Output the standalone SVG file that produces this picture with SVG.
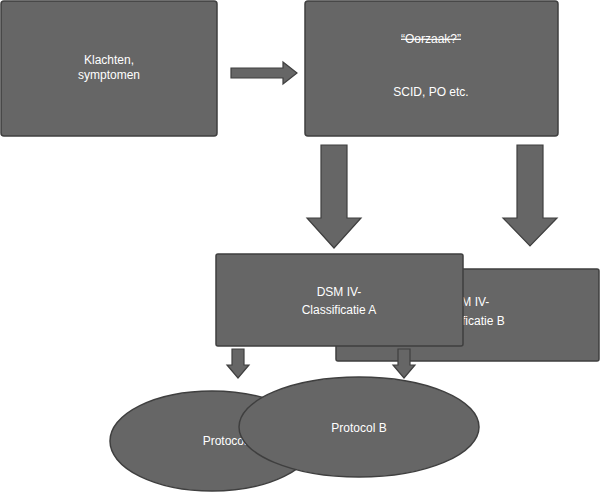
<svg xmlns="http://www.w3.org/2000/svg" width="600" height="492" viewBox="0 0 600 492">
<style>
.n{fill:#666;stroke:#3f3f3f;stroke-width:1.5}
.a{fill:#666;stroke:#3f3f3f;stroke-width:1.2}
text{font-family:"Liberation Sans",Arial,sans-serif;font-size:12px;fill:#fff;text-anchor:middle}
</style>
<rect width="600" height="492" fill="#fff"/>
<g id="klachten"><rect class="n" x="1" y="1" width="216" height="135" rx="3"/><text x="109" y="64">Klachten,</text><text x="109" y="79">symptomen</text></g>
<g id="oorzaak"><rect class="n" x="305" y="1" width="253" height="135" rx="3"/><text x="431" y="43" text-decoration="line-through">“Oorzaak?”</text><text x="431" y="96">SCID, PO etc.</text></g>
<g id="connectors">
<polygon class="a" points="231,68 283,68 283,62 297,73 283,84 283,78 231,78"/>
<polygon class="a" points="321,145 347,145 347,218 361,218 334,248 307,218 321,218"/>
<polygon class="a" points="517,145 543,145 543,218 557,218 530,246 503,218 517,218"/>
</g>
<g id="dsmB"><rect class="n" x="336" y="269" width="263" height="92" rx="2"/><text x="467" y="306">DSM IV-</text><text x="467" y="325">Classificatie B</text></g>
<g id="dsmA"><rect class="n" x="216" y="254" width="247" height="92" rx="2"/><text x="339" y="296">DSM IV-</text><text x="339" y="314">Classificatie A</text></g>
<g id="connectors2">
<polygon class="a" points="232,349 244,349 244,365 249,365 238,378 227,365 232,365"/>
<polygon class="a" points="398,349 410,349 410,365 415,365 404,378 393,365 398,365"/>
</g>
<g id="protA"><ellipse class="n" cx="212" cy="441" rx="102" ry="50"/><text x="230" y="445">Protocol A</text></g>
<g id="protB"><ellipse class="n" cx="359" cy="427" rx="120" ry="50"/><text x="359" y="432">Protocol B</text></g>
</svg>
